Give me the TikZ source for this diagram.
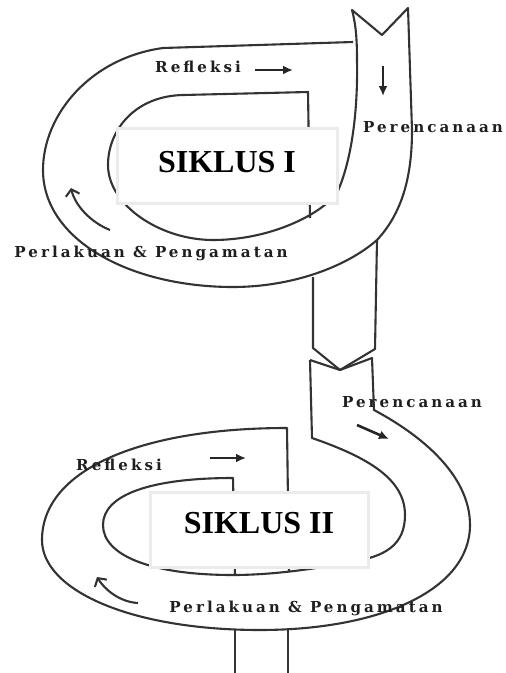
\documentclass[tikz,border=0pt]{standalone}
\usepackage{fontspec}
\setmainfont{Liberation Serif}
\newfontfamily\lblfont[LetterSpace=20]{DejaVu Serif}
\usetikzlibrary{arrows.meta}
\tikzset{
  band/.style={line width=2.1pt, draw=black!80, line join=round},
  lbl/.style={font=\lblfont\bfseries\fontsize{15.1}{18}\selectfont, text=black!88, inner sep=0pt},
  titlebox/.style={draw=black!8, line width=3pt, fill=white, minimum width=#1, minimum height=75pt, inner sep=0pt},
  titletext/.style={font=\bfseries\fontsize{32}{36}\selectfont, inner sep=0pt},
  solidarrow/.style={line width=2.6pt, draw=black!85, -{Latex[length=10pt,width=9pt]}},
  curvearrow/.style={line width=2.1pt, draw=black!80, -{Straight Barb[length=6pt,width=14pt]}}
}
\begin{document}
\begin{tikzpicture}[x=1pt,y=-1pt]
\useasboundingbox (0,0) rectangle (506,673);
% ---------- Cycle I ----------
\draw[band] (353,42) -- (163,48) .. controls (90,58) and (43,115) .. (43,170)
  .. controls (43,240) and (130,287) .. (233,287)
  .. controls (290,287) and (345,268) .. (377,240)
  .. controls (405,210) and (412,170) .. (412,130) -- (408,8)
  -- (382,35) -- (352,10)
  .. controls (356,25) and (357,40) .. (357,60)
  .. controls (358,110) and (352,160) .. (337,193)
  .. controls (320,215) and (270,240) .. (213,240)
  .. controls (160,240) and (108,205) .. (108,165)
  .. controls (108,130) and (135,96) .. (183,95) -- (308,92) -- (310,218);
% stem I
\draw[band] (313,277) -- (313,348) -- (340,370) -- (375,349) -- (377,240);
% ---------- Cycle II ----------
\draw[band] (310,360) -- (340,370) -- (372,358) -- (374,410)
  .. controls (430,440) and (470,480) .. (470,525)
  .. controls (470,590) and (380,630) .. (260,630)
  .. controls (130,630) and (42,590) .. (42,540)
  .. controls (42,470) and (140,428) .. (287,428) -- (289,572);
\draw[band] (310,360) -- (312,438)
  .. controls (370,458) and (405,480) .. (405,515)
  .. controls (405,545) and (385,557) .. (350,562)
  .. controls (300,572) and (260,575) .. (233,575)
  .. controls (150,575) and (103,555) .. (103,525)
  .. controls (103,495) and (150,478) .. (233,478) -- (235,575);
% stem II
\draw[band] (235,630) -- (235,673);
\draw[band] (288,628) -- (288,673);
% ---------- Boxes ----------
\node[titlebox=220pt] (box1) at (227,165.5) {};
\node[titletext] (t1) at (227,162) {SIKLUS I};
\node[titlebox=218pt] (box2) at (259,529.5) {};
\node[titletext] (t2) at (259,523) {SIKLUS II};
% ---------- Labels ----------
\node[lbl] (ref1) at (198,67) {Refleksi};
\node[lbl] (per1) at (433,127) {Perencanaan};
\node[lbl] (pp1) at (151,253) {Perlakuan \& Pengamatan};
\node[lbl] (ref2) at (119,465) {Refleksi};
\node[lbl] (per2) at (412,402) {Perencanaan};
\node[lbl] (pp2) at (306,608) {Perlakuan \& Pengamatan};
% ---------- Arrows ----------
\coordinate (a1s) at (255,70); \coordinate (a1e) at (293,70);
\coordinate (a2s) at (383,66); \coordinate (a2e) at (383,96);
\coordinate (a3s) at (110,230); \coordinate (a3e) at (71,188);
\coordinate (b1s) at (357,425); \coordinate (b1e) at (389,439);
\coordinate (b2s) at (210,458); \coordinate (b2e) at (246,458);
\coordinate (b3s) at (138,603); \coordinate (b3e) at (97,577);
\draw[solidarrow] (a1s) -- (a1e);
\draw[solidarrow] (a2s) -- (a2e);
\draw[curvearrow] (a3s) .. controls (90,222) and (75,205) .. (a3e);
\draw[solidarrow] (b1s) -- (b1e);
\draw[solidarrow] (b2s) -- (b2e);
\draw[curvearrow] (b3s) .. controls (120,602) and (105,590) .. (b3e);
\end{tikzpicture}
\end{document}
